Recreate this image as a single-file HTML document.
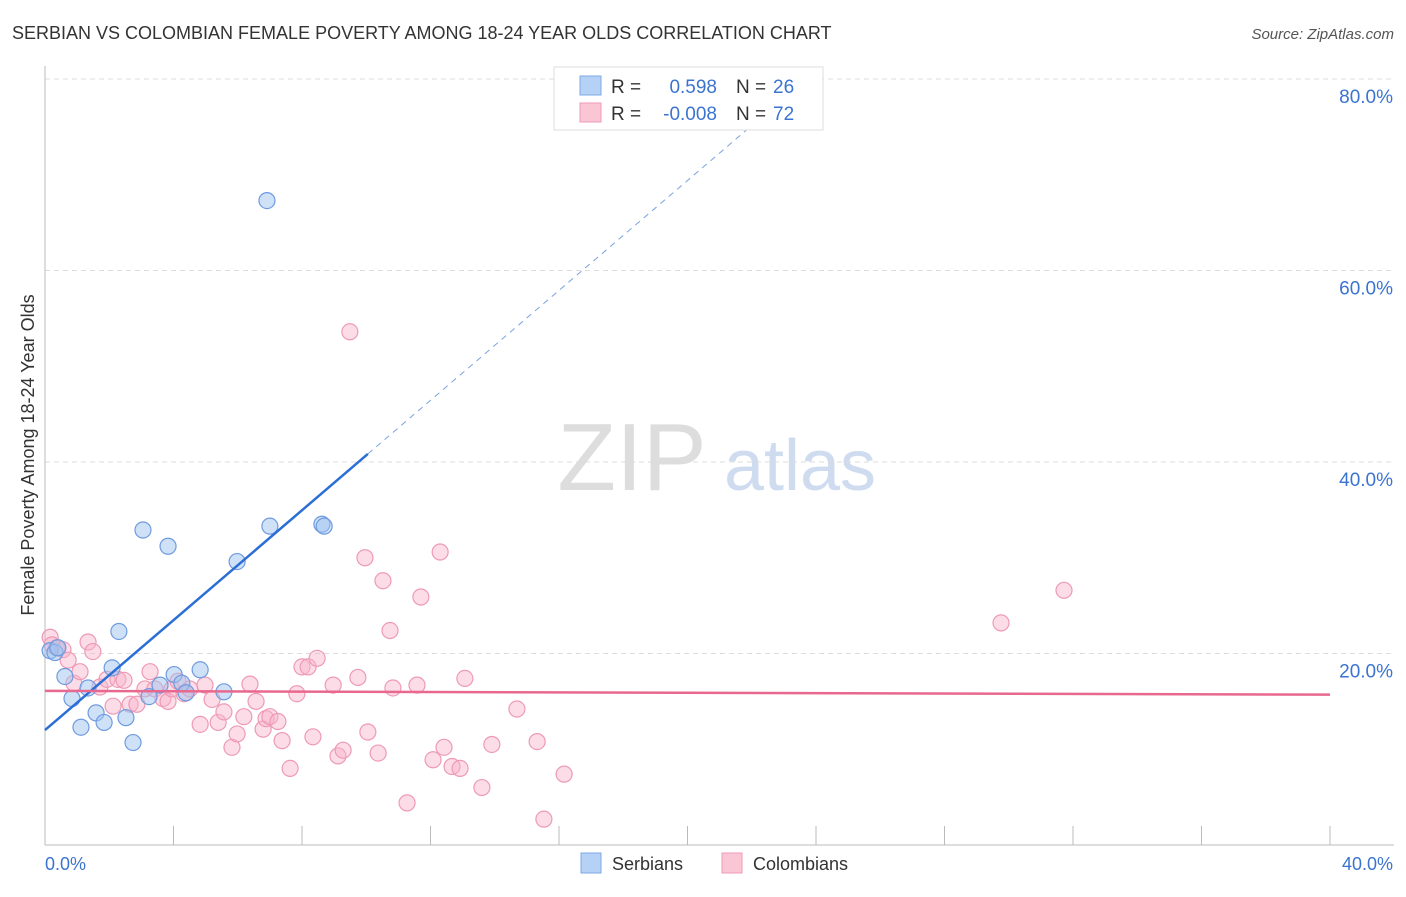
<!DOCTYPE html>
<html><head><meta charset="utf-8"><style>
body{margin:0;background:#fff;font-family:"Liberation Sans",sans-serif;}
svg text{font-family:"Liberation Sans",sans-serif;}
</style></head><body>
<svg id="c" width="1406" height="892" xmlns="http://www.w3.org/2000/svg">
<text x="12" y="39" font-size="18" fill="#333">SERBIAN VS COLOMBIAN FEMALE POVERTY AMONG 18-24 YEAR OLDS CORRELATION CHART</text>
<text x="1394" y="39" font-size="15" fill="#555" font-style="italic" text-anchor="end">Source: ZipAtlas.com</text>
<text transform="translate(34,455) rotate(-90)" font-size="18" fill="#333" text-anchor="middle">Female Poverty Among 18-24 Year Olds</text>
<g><text x="632" y="490" font-size="96" fill="#ddd" font-family="Liberation Serif" text-anchor="middle">ZIP</text><text x="800" y="490" font-size="72" fill="#cfdcf0" text-anchor="middle">atlas</text></g>
<g id="grid"></g><g id="axes"></g><g id="marks"></g>
<g>
<rect x="554" y="67" width="269" height="63" fill="#fff" stroke="#ddd"/>
<rect x="580" y="76" width="21" height="19" fill="#b5d1f5" stroke="#7ea9e6"/>
<rect x="580" y="103" width="21" height="19" fill="#fac6d6" stroke="#ef9bb6"/>
<text x="611" y="93" font-size="19" fill="#333">R =</text><text x="717" y="93" font-size="19" fill="#3b74d0" text-anchor="end">0.598</text>
<text x="736" y="93" font-size="19" fill="#333">N =</text><text x="773" y="93" font-size="19" fill="#3b74d0">26</text>
<text x="611" y="120" font-size="19" fill="#333">R =</text><text x="717" y="120" font-size="19" fill="#3b74d0" text-anchor="end">-0.008</text>
<text x="736" y="120" font-size="19" fill="#333">N =</text><text x="773" y="120" font-size="19" fill="#3b74d0">72</text>
</g>
<g>
<rect x="581" y="853" width="20" height="20" fill="#b5d1f5" stroke="#7ea9e6"/>
<text x="612" y="870" font-size="18" fill="#333">Serbians</text>
<rect x="722" y="853" width="20" height="20" fill="#fac6d6" stroke="#ef9bb6"/>
<text x="753" y="870" font-size="18" fill="#333">Colombians</text>
</g>
</svg>
<script>
const yTicks=[20,40,60,80];
const yTickLabels=["20.0%","40.0%","60.0%","80.0%"];
const xTickLabels=["0.0%","40.0%"];
const serbX=[0.16,0.31,0.40,0.62,0.84,1.12,1.34,1.59,1.84,2.09,2.30,2.52,2.74,3.05,3.24,3.58,3.83,4.02,4.26,4.39,4.83,5.57,5.98,6.91,7.00,8.62,8.69];
const serbY=[20.3,20.1,20.6,17.6,15.3,12.3,16.4,13.8,12.8,18.5,22.3,13.3,10.7,32.9,15.5,16.7,31.2,17.8,16.9,15.9,18.3,16.0,29.6,67.3,33.3,33.5,33.3];
const colX=[0.16,0.22,0.37,0.56,0.72,0.90,1.09,1.34,1.49,1.71,1.93,2.12,2.27,2.46,2.65,2.86,3.11,3.27,3.42,3.67,3.83,3.95,4.14,4.33,4.51,4.83,4.98,5.20,5.39,5.57,5.82,5.98,6.19,6.38,6.57,6.79,6.88,7.00,7.25,7.38,7.63,7.84,8.00,8.19,8.34,8.47,8.97,9.12,9.28,9.49,9.74,9.96,10.05,10.37,10.52,10.74,10.83,11.27,11.58,11.70,12.08,12.30,12.42,12.67,12.92,13.07,13.60,13.91,14.69,15.32,15.53,16.16,29.76,31.72];
const colY=[21.7,20.9,20.6,20.4,19.3,16.9,18.1,21.2,20.2,16.5,17.3,14.5,17.3,17.2,14.7,14.7,16.3,18.1,16.3,15.3,15.0,16.3,17.1,15.8,16.3,12.6,16.7,15.2,12.8,13.9,10.2,11.6,13.4,16.8,15.0,12.1,13.2,13.4,12.9,10.9,8.0,15.8,18.6,18.6,11.3,19.5,16.7,9.3,9.9,53.6,17.5,30.0,11.8,9.6,27.6,22.4,16.4,4.4,16.7,25.9,8.9,30.6,10.2,8.2,8.0,17.4,6.0,10.5,14.2,10.8,2.7,7.4,23.2,26.6];
const serbFit=[12.0,2.87]; // intercept, slope
const colFit=[16.1,-0.01];
const X=v=>45+v*32.125, Y=v=>845-v*9.575;
const NS="http://www.w3.org/2000/svg";
function mk(tag,attrs,parent){const e=document.createElementNS(NS,tag);for(const k in attrs)e.setAttribute(k,attrs[k]);document.getElementById(parent).appendChild(e);return e;}
yTicks.forEach((t,i)=>{
 const g=mk('line',{x1:45,x2:1394,y1:Y(t),y2:Y(t),stroke:'#ddd','stroke-dasharray':'5,4'},'grid');
 
 
 const tx=mk('text',{x:1393,y:Y(t)+24,'font-size':19,fill:'#3b74d0','text-anchor':'end'},'axes');tx.textContent=yTickLabels[i];
 
 
});
const gtop=mk('line',{x1:45,x2:1394,y1:Y(80),y2:Y(80),stroke:'#ddd','stroke-dasharray':'5,4'},'grid');
const ax=mk('line',{x1:45,x2:1394,y1:845,y2:845,stroke:'#bbb'},'axes');


const ay=mk('line',{x1:45,x2:45,y1:66,y2:845,stroke:'#bbb'},'axes');


for(let i=0;i<=40;i+=4){const t=mk('line',{x1:X(i),x2:X(i),y1:826,y2:845,stroke:'#bbb'},'axes');
 
 }
[[0,'start'],[40,'end']].forEach((p,i)=>{const t=mk('text',{x:i?1393:45,y:870,'font-size':18,fill:'#3b74d0','text-anchor':p[1]},'axes');t.textContent=xTickLabels[i];
 
 });
colX.forEach((x,i)=>{const c=mk('circle',{cx:X(x),cy:Y(colY[i]),r:8,fill:'rgba(248,180,202,0.45)',stroke:'#ee9ab5','stroke-width':1.2},'marks');
 
 });
serbX.forEach((x,i)=>{const c=mk('circle',{cx:X(x),cy:Y(serbY[i]),r:8,fill:'rgba(160,195,240,0.5)',stroke:'#6f9be0','stroke-width':1.2},'marks');
 
 });
const sEnd=10.05, dEnd=22.2;
const l1=mk('line',{x1:X(0),y1:Y(serbFit[0]),x2:X(sEnd),y2:Y(serbFit[0]+serbFit[1]*sEnd),stroke:'#2b6fd6','stroke-width':2.5},'marks');


const l2=mk('line',{x1:X(sEnd),y1:Y(serbFit[0]+serbFit[1]*sEnd),x2:X(dEnd),y2:Y(serbFit[0]+serbFit[1]*dEnd),stroke:'#7aa3e0','stroke-width':1,'stroke-dasharray':'6,5'},'marks');


const l3=mk('line',{x1:X(0),y1:Y(colFit[0]),x2:X(40),y2:Y(colFit[0]+colFit[1]*40),stroke:'#e8688f','stroke-width':2.5},'marks');


</script>
</body></html>
